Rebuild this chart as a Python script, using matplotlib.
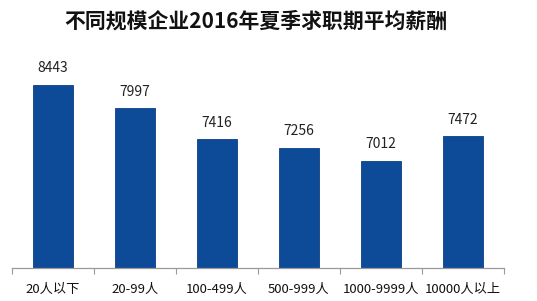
import matplotlib
matplotlib.use("Agg")
import matplotlib.pyplot as plt

plt.rcParams['font.family'] = ['Noto Sans CJK SC', 'DejaVu Sans']

categories = ["20人以下", "20-99人", "100-499人", "500-999人", "1000-9999人", "10000人以上"]
salaries = [8443, 7997, 7416, 7256, 7012, 7472]
title = "不同规模企业2016年夏季求职期平均薪酬"

fig = plt.figure(figsize=(5.37, 3.01), dpi=100)
ax = fig.add_axes([12 / 537, 1 - 268 / 301, 492 / 537, 213 / 301])

x = list(range(len(categories)))
bars = ax.bar(x, salaries, width=0.49, color="#0d4a98", edgecolor="#0a3f85", linewidth=0.6)

for xi, v in zip(x, salaries):
    ax.annotate(str(v), (xi, v), xytext=(0, 7), textcoords="offset points",
                ha="center", va="bottom", fontsize=10, color="#222222")

ax.set_xlim(-0.5, len(categories) - 0.5)
ax.set_ylim(5000, 9000)

# boundary ticks below the axis, labels centered under bars
ax.set_xticks([i - 0.5 for i in range(len(categories) + 1)])
ax.set_xticklabels([])
ax.tick_params(axis="x", which="major", length=4, color="#999999", direction="out")
ax.set_xticks(x, minor=True)
ax.set_xticklabels(categories, minor=True, fontsize=9.5, color="#111111")
ax.tick_params(axis="x", which="minor", length=0, pad=11)

ax.set_yticks([])
for s in ["top", "right", "left"]:
    ax.spines[s].set_visible(False)
ax.spines["bottom"].set_color("#999999")
ax.spines["bottom"].set_linewidth(0.9)

fig.text(256 / 537, 1 - 21 / 301, title, ha="center", va="center",
         fontsize=15, fontweight="bold", color="#111111")

fig.savefig("out.png", dpi=100)
